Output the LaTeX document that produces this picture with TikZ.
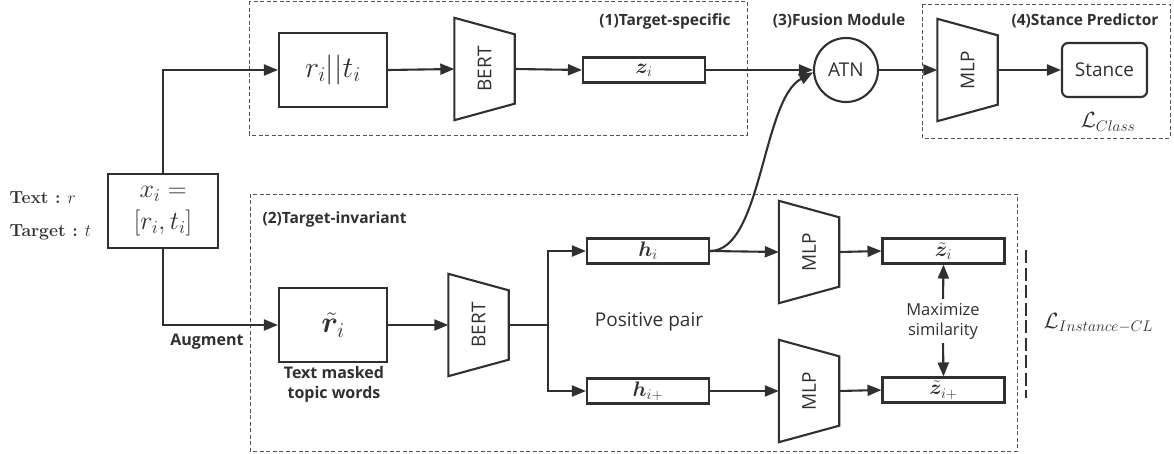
\RequirePackage{fix-cm}
\documentclass[tikz,border=0pt]{standalone}
\usepackage{fontspec}
\setsansfont{Open Sans}
\usepackage{amsmath,bm}
\usetikzlibrary{arrows.meta,calc}
\definecolor{ln}{HTML}{303030}
\definecolor{dsh}{HTML}{555555}
\newcommand\fsz[2]{\fontsize{#1}{#2}\selectfont}
\newcommand\trapz[4]{%
  \node[trapn] (#1) at (#2,#3) {\rotatebox{90}{#4}};
  \draw[trapline] (#1.north west) -- ([yshift=-16.5pt]#1.north east) -- ([yshift=16.5pt]#1.south east) -- (#1.south west) -- cycle;}
\begin{document}
\begin{tikzpicture}[x=1pt,y=-1pt,
  every node/.append style={text=ln},
  box/.style={draw=ln,line width=2.1pt,inner sep=0pt},
  bigbox/.style={box,minimum width=108pt,minimum height=74pt},
  vec/.style={box,minimum width=122pt,minimum height=25pt,font=\fsz{21}{24}},
  trapn/.style={inner sep=0pt,minimum width=60pt,minimum height=102pt,font=\sffamily\fsz{19}{22}},
  trapline/.style={draw=ln,line width=2.1pt,line join=miter},
  arr/.style={draw=ln,line width=2.1pt,-{Triangle[length=14pt,width=11pt]}},
  con/.style={draw=ln,line width=2.1pt},
  region/.style={draw=dsh,line width=0.9pt,dash pattern=on 4pt off 2.5pt},
  head/.style={font=\sffamily\bfseries\fsz{15.5}{18}},
  lab/.style={font=\sffamily\fsz{19}{22}},
]
\useasboundingbox (0,0) rectangle (1174,454);

% regions
\draw[region] (249,1.5) rectangle (747,135);
\draw[region] (250,194) rectangle (1017,451);
\draw[region] (922,4) rectangle (1170,138);

\node[head,anchor=east] (h1) at (734,21) {(1)Target-specific};
\node[head] (h3) at (839,21) {(3)Fusion Module};
\node[head] (h4) at (1085,21) {(4)Stance Predictor};
\node[head,anchor=west] (h2) at (259,219) {(2)Target-invariant};

% input
\node[anchor=west,font=\fsz{17.5}{20}] (tlab) at (6,198) {\textbf{Text :} $r$};
\node[anchor=west,font=\fsz{17.5}{20}] (glab) at (6,232) {\textbf{Target :} $t$};
\node[box,minimum width=110pt,minimum height=74pt,align=center,font=\fsz{26}{34}] (xb) at (163,211) {$x_i =$\\[-2pt]$[r_i,t_i]$};

% top row
\node[bigbox,font=\fsz{30}{34}] (rt) at (333,70) {$r_i||t_i$};
\trapz{bert1}{484.5}{69}{BERT}
\node[vec] (zi) at (644,70) {$\bm{z}_i$};
\node[circle,draw=ln,line width=2.1pt,minimum size=64pt,inner sep=0pt,lab] (atn) at (846,70) {ATN};
\trapz{mlp0}{967.5}{70}{MLP}
\node[box,rounded corners=6pt,minimum width=85pt,minimum height=54pt,lab] (st) at (1104.5,70) {Stance};
\node[font=\fsz{22}{26}] (lc) at (1108,122) {$\mathcal{L}_{Class}$};

% bottom
\node[bigbox,font=\fsz{30}{34}] (rtil) at (333,325) {$\bm{\tilde{r}}_i$};
\node[font=\sffamily\bfseries\fsz{16}{20},align=center] (tm) at (334,384) {Text masked\\topic words};
\node[font=\sffamily\bfseries\fsz{16}{20}] (aug) at (207,342) {Augment};
\trapz{bert2}{478.5}{325}{BERT}
\coordinate (split) at (548,325);
\node[vec] (hi) at (648,251) {$\bm{h}_i$};
\node[vec] (hip) at (648,391) {$\bm{h}_{i+}$};
\node[lab] (pp) at (649,322) {Positive pair};
\trapz{mlp1}{809}{252}{MLP}
\trapz{mlp2}{809}{391}{MLP}
\node[vec] (zt) at (943.5,251) {$\bm{\tilde{z}}_i$};
\node[vec] (ztp) at (943.5,390) {$\bm{\tilde{z}}_{i+}$};
\node[font=\sffamily\fsz{16.5}{20},align=center,inner sep=4pt] (ms) at (943,321) {Maximize\\similarity};
\coordinate (lt) at (1026,250);
\coordinate (lb) at (1026,398);
\draw[draw=ln,line width=2.6pt,dash pattern=on 13pt off 4.5pt] (lt) -- (lb);
\node[anchor=west,font=\fsz{22}{26}] (li) at (1040,323) {$\mathcal{L}_{Instance-CL}$};

% connectors
\draw[arr] (xb.north) |- (rt.west);
\draw[arr] (xb.south) |- (rtil.west);
\draw[arr] (rt.east) -- (bert1.west);
\draw[arr] (bert1.east) -- (zi.west);
\draw[arr] (zi.east) -- (atn.west);
\draw[arr] (atn.east) -- (mlp0.west);
\draw[arr] (mlp0.east) -- (st.west);
\draw[arr] (rtil.east) -- (bert2.west);
\draw[con] (bert2.east) -- (split);
\draw[arr] (split) |- (hi.west);
\draw[arr] (split) |- (hip.west);
\draw[arr] (hi.east) -- (mlp1.west);
\draw[arr] (hip.east) -- (mlp2.west);
\draw[arr] (mlp1.east) -- (zt.west);
\draw[arr] (mlp2.east) -- (ztp.west);
\draw[arr] (hi.east) .. controls (762,251) and (762,100) .. (atn.184);
\draw[arr] (ms.north) -- (zt.south);
\draw[arr] (ms.south) -- (ztp.north);
\end{tikzpicture}
\end{document}
